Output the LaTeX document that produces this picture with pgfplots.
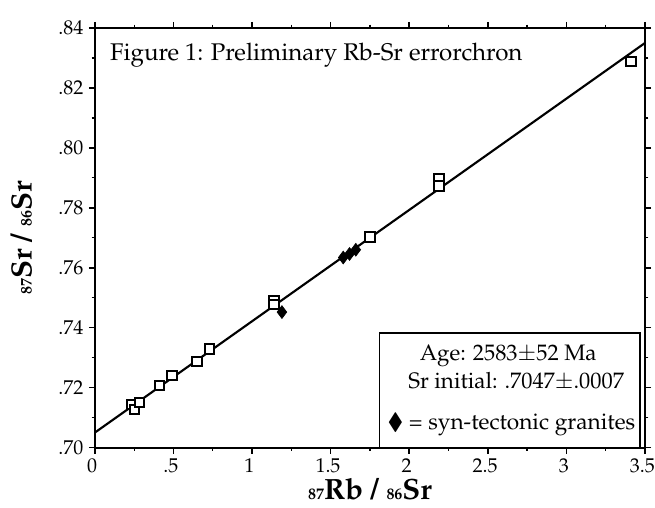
\documentclass[border=0pt]{standalone}
\usepackage[T1]{fontenc}
\usepackage{mathpazo}
\usepackage{amssymb}
\usepackage{pgfplots}
\pgfplotsset{compat=1.18}
\begin{document}
\begin{tikzpicture}
\begin{axis}[
  scale only axis, width=413pt, height=315pt,
  xmin=0, xmax=3.5, ymin=0.70, ymax=0.84,
  xtick={0,0.5,1,1.5,2,2.5,3,3.5},
  xticklabels={0,.5,1,1.5,2,2.5,3,3.5},
  ytick={0.70,0.72,0.74,0.76,0.78,0.80,0.82,0.84},
  yticklabels={.70,.72,.74,.76,.78,.80,.82,.84},
  minor x tick num=1, minor y tick num=1,
  tick align=outside, major tick length=4.5pt, minor tick length=2.5pt,
  line width=1.5pt,
  major tick style={line width=1.2pt, black},
  minor tick style={line width=1.0pt, black},
  tick label style={font=\fontsize{15}{17}\selectfont},
  xticklabel style={yshift=0pt, xshift=-2pt},
  yticklabel style={xshift=0pt},
  every axis x label/.style={at={(axis description cs:0.5,-0.124)}, anchor=base, inner sep=0pt},
  every axis y label/.style={at={(axis description cs:-0.134,0.5)}, rotate=90, anchor=center, inner sep=0pt},
  xlabel={{\fontsize{12}{14}\selectfont\bfseries 87}{\fontsize{22}{24}\selectfont\bfseries Rb / }{\fontsize{12}{14}\selectfont\bfseries 86}{\fontsize{22}{24}\selectfont\bfseries Sr}},
  ylabel={{\fontsize{12}{14}\selectfont\bfseries 87}{\fontsize{22}{24}\selectfont\bfseries Sr / }{\fontsize{12}{14}\selectfont\bfseries 86}{\fontsize{22}{24}\selectfont\bfseries Sr}},
  clip=false,
]
% errorchron line
\addplot[black, line width=1.6pt] coordinates {(0,0.7050) (3.5,0.8350)};
% open squares
\addplot[only marks, mark=square*, mark size=3.6pt, mark options={fill=white, draw=black, line width=1.5pt}]
  coordinates {
  (0.234,0.7143) (0.253,0.7127) (0.285,0.7150)
  (0.41,0.7207) (0.49,0.7240) (0.65,0.7287) (0.73,0.7328)
  (1.14,0.7490) (1.14,0.7477)
  (1.75,0.7703)
  (2.19,0.7898) (2.19,0.7872)
  (3.41,0.8288)
  };
% syn-tectonic granites (diamonds)
\addplot[only marks, mark=diamond*, mark size=4.8pt, mark options={fill=black, draw=black, line width=0.5pt}]
  coordinates {
  (1.19,0.7452) (1.58,0.7634) (1.62,0.7646) (1.66,0.7660)
  };
\node[anchor=west, font=\fontsize{18.1}{22}\selectfont] at (axis cs:0.063,0.831) {Figure 1: Preliminary Rb-Sr errorchron};
\draw[line width=1.3pt] (axis cs:1.81,0.70) -- (axis cs:1.81,0.7383) -- (axis cs:3.47,0.7383) -- (axis cs:3.47,0.70);
\node[inner sep=0pt, font=\fontsize{16.8}{20}\selectfont] at (axis cs:2.63,0.7307) {Age: 2583$\pm$52 Ma};
\node[inner sep=0pt, font=\fontsize{16.8}{20}\selectfont] at (axis cs:2.68,0.7220) {Sr initial: .7047$\pm$.0007};
\node[inner sep=0pt, font=\fontsize{17}{20}\selectfont] at (axis cs:2.65,0.7077) {$\blacklozenge$ = syn-tectonic granites};
\path (rel axis cs:0,0) ++(-71.25pt,-45pt) coordinate (bbsw);
\path (rel axis cs:1,1) ++(7.5pt,21pt) coordinate (bbne);
\end{axis}
\pgfresetboundingbox
\path[use as bounding box] (bbsw) rectangle (bbne);
\end{tikzpicture}
\end{document}
